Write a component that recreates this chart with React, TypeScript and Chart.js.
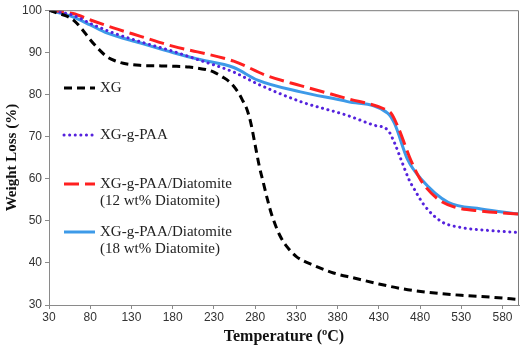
import React, { useEffect, useRef } from "react";
import { Chart, registerables } from "chart.js";

Chart.register(...registerables);

const xTicks = [30, 80, 130, 180, 230, 280, 330, 380, 430, 480, 530, 580];
const yTicks = [30, 40, 50, 60, 70, 80, 90, 100];

const xgT = [30, 40, 50, 60, 70, 80, 90, 100, 110, 120, 140, 160, 180, 200, 220, 230, 240, 250, 260, 265, 270, 275, 280, 285, 290, 295, 300, 310, 320, 330, 350, 375, 400, 430, 460, 490, 530, 570, 600];
const xgW = [100, 99.3, 98.7, 97.6, 95.5, 93, 90.8, 89, 88, 87.4, 86.9, 86.8, 86.7, 86.5, 85.9, 85.3, 84.2, 82.8, 80.3, 78.5, 76.5, 73, 68, 63, 59, 55, 51.5, 46.5, 43.5, 41.5, 39.5, 37.6, 36.4, 35, 33.8, 33, 32.3, 31.8, 31.3];

const paaT = [30, 59, 84, 108, 141, 181, 210, 254, 283, 335, 392, 424, 441, 449, 457, 467, 473, 485, 506, 530, 563, 600];
const paaW = [100, 98.8, 96.5, 94.6, 92.5, 90.2, 88.3, 85.3, 82.5, 78.3, 75, 72.7, 71.5, 68.5, 64.5, 59.6, 57.5, 53.7, 49.8, 48.4, 47.7, 47.2];

const d12T = [30, 59, 80, 108, 141, 181, 210, 254, 295, 335, 392, 436, 445, 453, 469, 481, 502, 521, 554, 600];
const d12W = [100, 99.2, 97.7, 95.8, 93.8, 91.4, 90.1, 87.9, 84.4, 82.1, 79, 76.6, 75.5, 72.4, 64.3, 59.6, 55.1, 53.3, 52.3, 51.6];

const d18T = [30, 59, 80, 100, 141, 181, 210, 254, 283, 335, 392, 441, 449, 465, 481, 514, 554, 600];
const d18W = [100, 98.4, 96.5, 94.6, 92.2, 89.9, 88.4, 86.4, 83.4, 80.6, 78.3, 75.5, 73.1, 64.5, 60, 54.4, 52.8, 51.6];

const labels = ["XG", "XG-g-PAA", "XG-g-PAA/Diatomite", "XG-g-PAA/Diatomite"];
const subLabels = ["", "", "(12 wt% Diatomite)", "(18 wt% Diatomite)"];
const xTitle = "Temperature (\u00baC)";
const yTitle = "Weight Loss (%)";

const colors = ["#000000", "#5522dd", "#ff2020", "#3d9ae8"];
const dashes: number[][] = [[8, 5], [0.1, 5.5], [15, 6], []];
const caps = ["butt", "round", "butt", "butt"];

function pts(t: number[], w: number[]) {
  return t.map((x, i) => ({ x, y: w[i] }));
}

export default function App() {
  const ref = useRef<HTMLCanvasElement>(null);
  useEffect(() => {
    document.body.style.margin = "0";
    const series = [pts(xgT, xgW), pts(paaT, paaW), pts(d12T, d12W), pts(d18T, d18W)];
    const legendPlugin = {
      id: "customLegend",
      afterDatasetsDraw(chart: any) {
        const ctx = chart.ctx;
        const area = chart.chartArea;
        ctx.save();
        ctx.strokeStyle = "#7a7a7a";
        ctx.lineWidth = 1;
        ctx.beginPath();
        ctx.moveTo(area.left, area.top + 0.5);
        ctx.lineTo(area.right - 0.5, area.top + 0.5);
        ctx.lineTo(area.right - 0.5, area.bottom);
        ctx.stroke();
        const ys = [88, 135, 184, 232];
        ctx.font = "15px 'Liberation Serif', serif";
        ctx.textBaseline = "middle";
        for (let i = 0; i < 4; i++) {
          const y = ys[i];
          ctx.beginPath();
          ctx.strokeStyle = colors[i];
          ctx.lineWidth = 3;
          ctx.setLineDash(dashes[i]);
          ctx.lineCap = caps[i];
          ctx.moveTo(64, y);
          ctx.lineTo(95, y);
          ctx.stroke();
          ctx.setLineDash([]);
          ctx.fillStyle = "#222";
          ctx.fillText(labels[i], 100, y);
          if (subLabels[i]) ctx.fillText(subLabels[i], 100, y + 17);
        }
        ctx.restore();
      },
    };
    const chart = new Chart(ref.current!, {
      type: "line",
      data: {
        datasets: series.map((d, i) => ({
          label: labels[i],
          data: d,
          borderColor: colors[i],
          borderWidth: 3,
          borderDash: dashes[i],
          borderCapStyle: caps[i] as any,
          pointRadius: 0,
          cubicInterpolationMode: "monotone" as const,
          fill: false,
        })),
      },
      options: {
        animation: false,
        responsive: true,
        maintainAspectRatio: false,
        layout: { padding: { top: 5, right: 1, left: 0, bottom: 0 } },
        plugins: { legend: { display: false }, tooltip: { enabled: false } },
        scales: {
          x: {
            type: "linear",
            min: 30,
            max: 600,
            afterBuildTicks(scale: any) {
              scale.ticks = xTicks.map((v) => ({ value: v }));
            },
            afterFit(scale: any) {
              scale.height = 41;
            },
            grid: { drawOnChartArea: false, drawTicks: true, tickLength: 4, color: "#8a8a8a" },
            border: { color: "#8a8a8a" },
            ticks: {
              color: "#333",
              font: { family: "'Liberation Sans', sans-serif", size: 12 },
              padding: 1,
              maxRotation: 0,
              autoSkip: false,
            },
            title: {
              display: true,
              text: xTitle,
              color: "#111",
              font: { family: "'Liberation Serif', serif", size: 16, weight: "bold" },
              padding: { top: 0, bottom: 0 },
            },
          },
          y: {
            type: "linear",
            min: 30,
            max: 100,
            afterBuildTicks(scale: any) {
              scale.ticks = yTicks.map((v) => ({ value: v }));
            },
            afterFit(scale: any) {
              scale.width = 49;
            },
            grid: { drawOnChartArea: false, drawTicks: true, tickLength: 4, color: "#8a8a8a" },
            border: { color: "#8a8a8a" },
            ticks: {
              color: "#333",
              font: { family: "'Liberation Sans', sans-serif", size: 12 },
              padding: 3,
            },
            title: {
              display: true,
              text: yTitle,
              color: "#111",
              font: { family: "'Liberation Serif', serif", size: 15, weight: "bold" },
              padding: { top: 3, bottom: 0 },
            },
          },
        },
      },
      plugins: [legendPlugin],
    });
    return () => chart.destroy();
  }, []);
  return (
    <div style={{ position: "relative", width: 520, height: 346, background: "#fff" }}>
      <canvas ref={ref} />
    </div>
  );
}
